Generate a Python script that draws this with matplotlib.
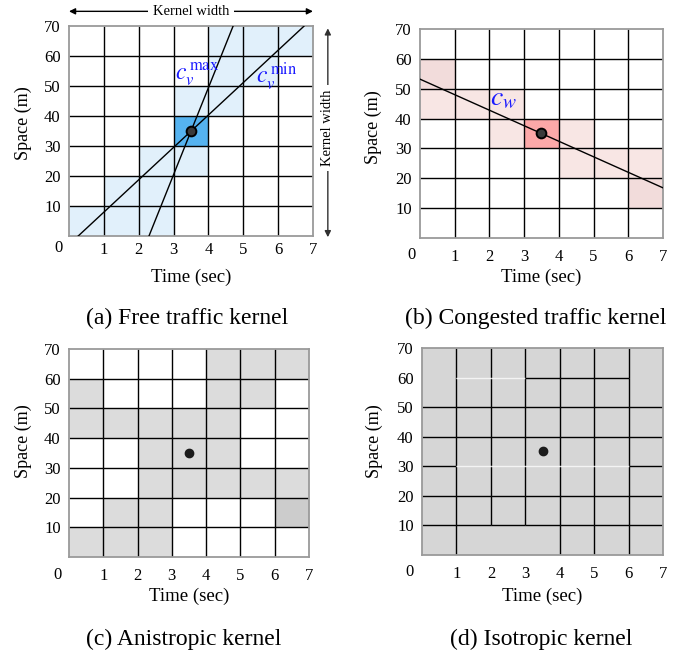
import matplotlib
matplotlib.use('Agg')
import matplotlib.pyplot as plt
from matplotlib.patches import Rectangle

plt.rcParams['font.family'] = ['Liberation Serif', 'DejaVu Serif']
plt.rcParams['mathtext.fontset'] = 'stix'

# kernel grid: 7 time bins of 1 s, 7 space bins of 10 m
time_ticks = [1, 2, 3, 4, 5, 6, 7]
space_ticks = [10, 20, 30, 40, 50, 60, 70]
n_bins = 7
dt, ds = 1, 10
probe = (3.5, 35)   # cell being estimated

# shaded cells as (time column, space row); row 0 = 0-10 m
free_cells = [(0, 0), (1, 0), (2, 0), (1, 1), (2, 1), (2, 2), (3, 2),
              (3, 4), (4, 4), (4, 5), (5, 5), (4, 6), (5, 6), (6, 6)]
free_core = [(3, 3)]
cv_max = 29.0   # m/s, fastest free-flow wave
cv_min = 10.8   # m/s, slowest free-flow wave

cong_cells = [(0, 4), (1, 4), (2, 4), (2, 3), (4, 3), (4, 2), (5, 2), (6, 2)]
cong_edge = [(0, 5), (6, 1)]
cong_core = [(3, 3)]
cw = -5.2       # m/s, congested backward wave

aniso_cells = [(4, 6), (5, 6), (6, 6),
               (0, 5), (4, 5), (5, 5),
               (0, 4), (1, 4), (2, 4), (3, 4), (4, 4),
               (2, 3), (3, 3), (4, 3),
               (2, 2), (3, 2), (4, 2), (5, 2), (6, 2),
               (1, 1), (2, 1),
               (0, 0), (1, 0), (2, 0)]
aniso_dark = [(6, 1)]

iso_cells = [(c, r) for c in range(n_bins) for r in range(n_bins)]

# grid segments of the isotropic kernel that are left out / drawn light
iso_skip = {('h', 60, 0), ('h', 60, 6), ('v', 2, 0), ('v', 3, 0)}
iso_white = {('h', 30, 1), ('h', 30, 2), ('h', 30, 3), ('h', 30, 4), ('h', 30, 5),
             ('h', 60, 1), ('h', 60, 2)}

captions = ['(a) Free traffic kernel', '(b) Congested traffic kernel',
            '(c) Anistropic kernel', '(d) Isotropic kernel']


def shade(ax, cells, color):
    for c, r in cells:
        ax.add_patch(Rectangle((c * dt, r * ds), dt, ds, fc=color, ec='none', zorder=1))


def draw_grid(ax, skip=(), white=()):
    for x in time_ticks[:-1]:
        for r in range(n_bins):
            key = ('v', x, r)
            if key in skip:
                continue
            col = '#f4f4f4' if key in white else 'black'
            ax.plot([x, x], [r * ds, (r + 1) * ds], color=col, lw=1.0,
                    solid_capstyle='butt', zorder=2)
    for y in space_ticks[:-1]:
        for c in range(n_bins):
            key = ('h', y, c)
            if key in skip:
                continue
            col = '#f4f4f4' if key in white else 'black'
            ax.plot([c * dt, (c + 1) * dt], [y, y], color=col, lw=1.0,
                    solid_capstyle='butt', zorder=2)


def setup(ax, xpad, zero_xy, xlab_y, ylab_xy):
    ax.set_xlim(0, 7)
    ax.set_ylim(0, 70)
    ax.set_xticks(time_ticks)
    ax.set_yticks(space_ticks)
    ax.tick_params(length=0, labelsize=12)
    ax.tick_params(axis='x', pad=xpad)
    ax.tick_params(axis='y', pad=6)
    for sp in ax.spines.values():
        sp.set_color('#9a9a9a')
        sp.set_linewidth(1.3)
        sp.set_zorder(3)
    ax.text(zero_xy[0], zero_xy[1], '0', transform=ax.transAxes,
            ha='center', va='center', fontsize=12)
    ax.set_xlabel('Time (sec)', fontsize=13.5)
    ax.set_ylabel('Space (m)', fontsize=13)
    ax.xaxis.set_label_coords(0.5, xlab_y)
    ax.yaxis.set_label_coords(ylab_xy[0], ylab_xy[1])


fig = plt.figure(figsize=(6.97, 6.56), dpi=100)
ax_a = fig.add_axes([0.099, 0.640, 0.350, 0.320])
ax_b = fig.add_axes([0.6026, 0.6372, 0.3486, 0.3186])
ax_c = fig.add_axes([0.099, 0.1509, 0.344, 0.317])
ax_d = fig.add_axes([0.6055, 0.154, 0.3458, 0.3155])

# (a) free traffic
shade(ax_a, free_cells, '#e1f0fb')
shade(ax_a, free_core, '#55b3f0')
draw_grid(ax_a)
ax_a.axline(probe, slope=cv_max, color='black', lw=1.0, zorder=4)
ax_a.axline(probe, slope=cv_min, color='black', lw=1.0, zorder=4)
ax_a.plot(*probe, 'o', ms=7, mfc='#3a3a3a', mec='black', mew=1.4, zorder=5)
ax_a.text(3.05, 52.3, r'$c_v^{\,\mathrm{max}}$', color='#1a1aff', fontsize=17,
          va='baseline', zorder=5)
ax_a.text(5.36, 50.8, r'$c_v^{\,\mathrm{min}}$', color='#1a1aff', fontsize=17,
          va='baseline', zorder=5)
setup(ax_a, 4, (-0.045, -0.057), -0.157, (-0.152, 0.54))

# kernel width arrows
ax_a.annotate('', xy=(0.0, 1.071), xytext=(1.0, 1.071), xycoords='axes fraction',
              arrowprops=dict(arrowstyle='<|-|>', color='black', lw=1.0,
                              mutation_scale=9, shrinkA=0, shrinkB=0))
ax_a.text(0.5, 1.071, 'Kernel width', transform=ax_a.transAxes, ha='center',
          va='center', fontsize=10.5,
          bbox=dict(fc='white', ec='none', pad=3.5))
ax_a.annotate('', xy=(1.061, 0.99), xytext=(1.061, -0.005), xycoords='axes fraction',
              arrowprops=dict(arrowstyle='<|-|>', color='#303030', lw=1.0,
                              mutation_scale=9, shrinkA=0, shrinkB=0))
ax_a.text(1.061, 0.514, 'Kernel width', transform=ax_a.transAxes, ha='center',
          va='center', rotation=90, fontsize=10.5,
          bbox=dict(fc='white', ec='none', pad=3.5))

# (b) congested traffic
shade(ax_b, cong_cells, '#f8e6e4')
shade(ax_b, cong_edge, '#f2dcdb')
shade(ax_b, cong_core, '#fca8a8')
draw_grid(ax_b)
ax_b.axline(probe, slope=cw, color='black', lw=1.0, zorder=4)
ax_b.plot(*probe, 'o', ms=7, mfc='#3a3a3a', mec='black', mew=1.4, zorder=5)
ax_b.text(2.02, 44.3, r'$c_w$', color='#1a1aff', fontsize=20, va='baseline', zorder=5)
setup(ax_b, 8, (-0.034, -0.081), -0.148, (-0.156, 0.53))

# (c) anisotropic
shade(ax_c, aniso_cells, '#dcdcdc')
shade(ax_c, aniso_dark, '#cccccc')
draw_grid(ax_c)
ax_c.plot(*probe, 'o', ms=6, color='#1c1c1c', zorder=5)
setup(ax_c, 8, (-0.046, -0.087), -0.149, (-0.154, 0.556))

# (d) isotropic
shade(ax_d, iso_cells, '#d6d6d6')
draw_grid(ax_d, skip=iso_skip, white=iso_white)
ax_d.plot(*probe, 'o', ms=6, color='#1c1c1c', zorder=5)
setup(ax_d, 8, (-0.05, -0.082), -0.159, (-0.162, 0.55))

caption_pos = [(0.268, 0.515), (0.769, 0.515), (0.263, 0.026), (0.776, 0.026)]
for (x, y), cap in zip(caption_pos, captions):
    fig.text(x, y, cap, ha='center', va='center', fontsize=17)

fig.savefig('out.png', dpi=100)
